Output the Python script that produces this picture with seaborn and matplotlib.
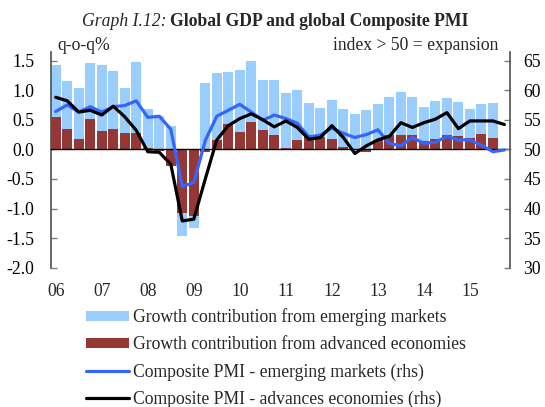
import numpy as np
import pandas as pd
import matplotlib
matplotlib.use("Agg")
import matplotlib.pyplot as plt
import seaborn as sns

# ---------------- data ----------------
year_labels = ["06", "07", "08", "09", "10", "11", "12", "13", "14", "15"]

# quarterly GDP growth contributions (q-o-q %), 2006Q1 - 2015Q3
emerging = [0.88, 0.81, 0.86, 0.94, 1.11, 0.97, 0.76, 1.19, 0.65, 0.57,
            0.39, -0.38, -0.21, 1.12, 1.14, 0.88, 1.05, 1.02, 0.85, 0.93,
            0.94, 0.85, 0.53, 0.49, 0.67, 0.64, 0.58, 0.67, 0.61, 0.64,
            0.72, 0.64, 0.57, 0.63, 0.63, 0.57, 0.50, 0.50, 0.60]
advanced = [0.54, 0.34, 0.18, 0.52, 0.31, 0.35, 0.28, 0.28, 0.03, -0.03,
            -0.28, -1.08, -1.12, -0.05, 0.15, 0.42, 0.29, 0.47, 0.32, 0.24,
            0.02, 0.15, 0.25, 0.21, 0.17, 0.04, 0.01, -0.05, 0.16, 0.25,
            0.25, 0.25, 0.14, 0.18, 0.24, 0.23, 0.19, 0.26, 0.19]

# Composite PMI (rhs), 2006Q1 - 2015Q4
pmi_emerging = [56.4, 57.5, 56.3, 57.2, 56.3, 57.2, 57.4, 58.2, 55.4, 55.6,
                53.4, 43.7, 44.4, 51.5, 55.6, 56.6, 57.6, 56.3, 54.9, 55.8,
                55.2, 54.4, 52.1, 52.4, 53.6, 52.7, 52.0, 52.5, 53.3, 51.0,
                50.6, 52.0, 51.0, 51.2, 52.2, 51.6, 51.6, 50.7, 49.6, 49.9]
pmi_advanced = [58.8, 58.2, 56.3, 56.6, 55.8, 57.3, 55.5, 53.2, 49.6, 49.5,
                47.5, 37.9, 38.2, 45.0, 51.6, 54.0, 55.2, 56.0, 55.0, 53.8,
                54.8, 53.7, 51.7, 52.0, 54.0, 52.0, 49.3, 50.6, 51.6, 52.2,
                54.5, 53.7, 54.5, 55.1, 56.2, 53.5, 54.8, 54.8, 54.8, 54.2]

series_labels = ["Growth contribution from emerging markets",
                 "Growth contribution from advanced economies",
                 "Composite PMI - emerging markets (rhs)",
                 "Composite PMI - advances economies (rhs)"]

# ---------------- style ----------------
LIGHT_BLUE = "#99CCFF"
DARK_RED = "#953735"
LINE_BLUE = "#3366FF"
GRAY = "#7f7f7f"
FS = 12.7

sns.set_theme(style="white")
plt.rcParams["font.family"] = ["Liberation Serif", "DejaVu Serif"]
plt.rcParams["axes.unicode_minus"] = False

W, H = 545, 407
fig = plt.figure(figsize=(W / 100, H / 100), dpi=100)
left, right, top, bottom = 51, 509.5, 51.7, 267.7
ax = fig.add_axes([left / W, 1 - bottom / H, (right - left) / W, (bottom - top) / H])

adv = np.array(advanced)
em = np.array(emerging)
em_bottom = np.where(np.sign(em) == np.sign(adv), adv, 0.0)
df_bars = pd.DataFrame({"q": np.arange(len(adv)), "adv": adv, "em": em})

sns.barplot(data=df_bars, x="q", y="adv", native_scale=True, color=DARK_RED,
            saturation=1, width=0.86, linewidth=0, errorbar=None, ax=ax)
sns.barplot(data=df_bars, x="q", y="em", native_scale=True, color=LIGHT_BLUE,
            saturation=1, width=0.86, linewidth=0, errorbar=None,
            bottom=em_bottom, ax=ax)

ax2 = ax.twinx()
df_lines = pd.DataFrame({"q": np.arange(len(pmi_emerging)),
                         "em": pmi_emerging, "adv": pmi_advanced})
sns.lineplot(data=df_lines, x="q", y="em", color=LINE_BLUE, lw=2.3, ax=ax2)
sns.lineplot(data=df_lines, x="q", y="adv", color="black", lw=2.3, ax=ax2)

# ---------------- axes ----------------
ax.set_xlim(-0.41, 39.44)
ax.set_ylim(-2.0, 1.65)
ax2.set_ylim(30, 66.5)
ax.set_xlabel("")
ax.set_ylabel("")
ax2.set_xlabel("")
ax2.set_ylabel("")

ax.spines["top"].set_visible(False)
ax.spines["right"].set_visible(False)
ax.spines["left"].set_color("#555555")
ax.spines["bottom"].set_position(("data", 0))
ax.spines["bottom"].set_color("black")
ax.spines["bottom"].set_linewidth(1.0)
for s in ["top", "left", "bottom"]:
    ax2.spines[s].set_visible(False)
ax2.spines["right"].set_color("#555555")

yt = np.arange(-2.0, 1.51, 0.5)
ax.set_yticks(yt, [f"{v:.1f}" for v in yt])
ax.tick_params(axis="y", direction="in", length=4, width=1, color=GRAY,
               labelsize=FS, pad=12, labelcolor="black")
ax.set_xticks(np.arange(3.5, 36, 4))
ax.tick_params(axis="x", direction="in", length=5, width=1.5, color=GRAY,
               labelbottom=False)

ax2.set_yticks(np.arange(30, 66, 5))
ax2.tick_params(axis="y", direction="in", length=4, width=1, color=GRAY,
                labelsize=FS, pad=10, labelcolor="black")

sec = ax.secondary_xaxis("bottom")
sec.set_xticks(np.arange(0, 40, 4), year_labels)
sec.tick_params(length=0, labelsize=FS, pad=11)
sec.spines["bottom"].set_visible(False)

# ---------------- texts ----------------
fig.text(166.5 / W, 1 - 22 / H, "Graph I.12:", ha="right", va="center",
         fontsize=FS, style="italic")
fig.text(170 / W, 1 - 22 / H, "Global GDP and global Composite PMI",
         ha="left", va="center", fontsize=FS, weight="bold")
fig.text(57 / W, 1 - 45 / H, "q-o-q%", ha="left", va="center", fontsize=FS)
fig.text(498 / W, 1 - 45 / H, "index > 50 = expansion", ha="right",
         va="center", fontsize=FS)

# ---------------- legend ----------------
handles = [ax.containers[1], ax.containers[0], ax2.lines[0], ax2.lines[1]]
fig.legend(handles=handles, labels=series_labels, loc="upper left",
           bbox_to_anchor=(86 / W, 1 - 308 / H), frameon=False,
           fontsize=FS, handlelength=2.44, handleheight=0.5,
           handletextpad=0.21, labelspacing=0.58, borderpad=0,
           borderaxespad=0)

fig.savefig("out.png", dpi=100)
